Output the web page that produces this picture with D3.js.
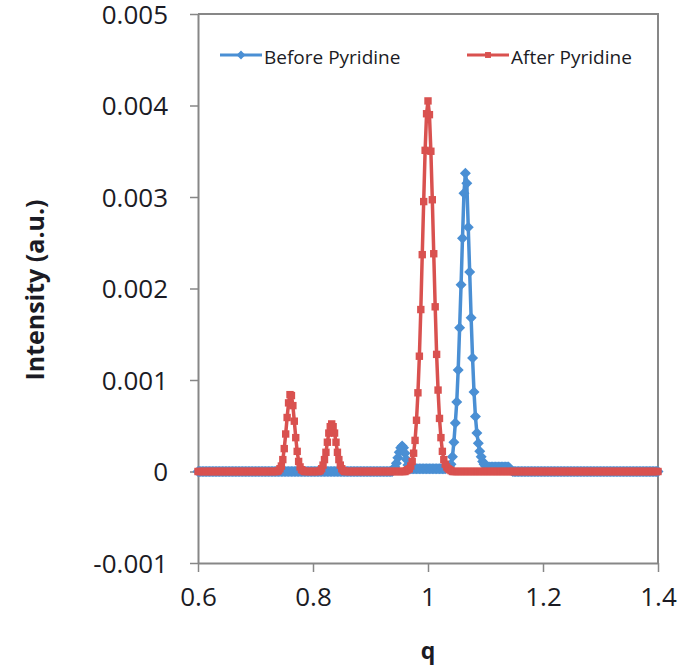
<!DOCTYPE html>
<html>
<head>
<meta charset="utf-8">
<script src="https://cdn.jsdelivr.net/npm/d3@7"></script>
<style>
    body { margin: 0; background: #fff; }
    svg text { font-family: "Open Sans", sans-serif; fill: #1b1b24; }
</style>
</head>
<body>
<svg id="chart" width="690" height="669"></svg>
<script>
// q grid of the scan: first value and step
var qStart = 0.6;
var qStep = 0.0025;

// intensities, one value per q step (0.6 .. 1.4), 10 per row (row r starts at q = 0.6 + 0.025 r)
var beforePyridine = [
    0, 0, 0, 0, 0, 0, 0, 0, 0, 0,
    0, 0, 0, 0, 0, 0, 0, 0, 0, 0,
    0, 0, 0, 0, 0, 0, 0, 0, 0, 0,
    0, 0, 0, 0, 0, 0, 0, 0, 0, 0,
    0, 0, 0, 0, 0, 0, 0, 0, 0, 0,
    0, 0, 0, 0, 0, 0, 0, 0, 0, 0,
    0, 0, 0, 0, 0, 0, 0, 0, 0, 0,
    0, 0, 0, 0, 0, 0, 0, 0, 0, 0,
    0, 0, 0, 0, 0, 0, 0, 0, 0, 0,
    0, 0, 0, 0, 0, 0, 0, 0, 0, 0,
    0, 0, 0, 0, 0, 0, 0, 0, 0, 0,
    0, 0, 0, 0, 0, 0, 0, 0, 0, 0,
    0, 0, 0, 0, 0, 0, 0, 0, 0, 0,
    0, 0, 0, 0, 0, 0, 0.00002, 0.00005, 0.00009, 0.00015,
    0.00021, 0.00026, 0.00028, 0.00026, 0.0002, 0.00013, 0.00007, 0.00004, 0.00003, 0.00003,
    0.00003, 0.00003, 0.00003, 0.00003, 0.00003, 0.00003, 0.00003, 0.00003, 0.00003, 0.00003,
    0.00003, 0.00003, 0.00003, 0.00003, 0.00003, 0.00003, 0.00003, 0.00003, 0.00003, 0.00003,
    0.00003, 0.00003, 0.00003, 0.00004, 0.00005, 0.00006, 0.00008, 0.00016, 0.00032, 0.00053,
    0.00076, 0.00111, 0.00157, 0.00204, 0.00255, 0.00304, 0.00326, 0.00315, 0.00267, 0.00218,
    0.00168, 0.00124, 0.00087, 0.0006, 0.00042, 0.00031, 0.00022, 0.00016, 0.00011, 0.00008,
    0.00006, 0.00005, 0.00005, 0.00005, 0.00005, 0.00005, 0.00005, 0.00005, 0.00005, 0.00005,
    0.00005, 0.00005, 0.00005, 0.00005, 0.00005, 0.00005, 0.00005, 0.00003, 0.00001, 0,
    0, 0, 0, 0, 0, 0, 0, 0, 0, 0,
    0, 0, 0, 0, 0, 0, 0, 0, 0, 0,
    0, 0, 0, 0, 0, 0, 0, 0, 0, 0,
    0, 0, 0, 0, 0, 0, 0, 0, 0, 0,
    0, 0, 0, 0, 0, 0, 0, 0, 0, 0,
    0, 0, 0, 0, 0, 0, 0, 0, 0, 0,
    0, 0, 0, 0, 0, 0, 0, 0, 0, 0,
    0, 0, 0, 0, 0, 0, 0, 0, 0, 0,
    0, 0, 0, 0, 0, 0, 0, 0, 0, 0,
    0, 0, 0, 0, 0, 0, 0, 0, 0, 0,
    0
];

var afterPyridine = [
    0, 0, 0, 0, 0, 0, 0, 0, 0, 0,
    0, 0, 0, 0, 0, 0, 0, 0, 0, 0,
    0, 0, 0, 0, 0, 0, 0, 0, 0, 0,
    0, 0, 0, 0, 0, 0, 0, 0, 0, 0,
    0, 0, 0, 0, 0, 0, 0, 0, 0, 0,
    0, 0, 0, 0, 0, 0, 0.00001, 0.00003, 0.00006, 0.00013,
    0.00025, 0.00041, 0.00059, 0.00075, 0.00084, 0.00083, 0.00072, 0.00055, 0.00037, 0.00022,
    0.00011, 0.00005, 0.00002, 0.00001, 0, 0, 0, 0, 0, 0,
    0, 0, 0, 0, 0, 0.00001, 0.00003, 0.00007, 0.00013, 0.00021,
    0.00032, 0.00042, 0.00049, 0.00052, 0.00049, 0.00042, 0.00032, 0.00021, 0.00013, 0.00007,
    0.00003, 0.00001, 0, 0, 0, 0, 0, 0, 0, 0,
    0, 0, 0, 0, 0, 0, 0, 0, 0, 0,
    0, 0, 0, 0, 0, 0, 0, 0, 0, 0,
    0, 0, 0, 0, 0, 0, 0, 0, 0, 0,
    0, 0, 0, 0, 0, 0.00001, 0.00002, 0.00003, 0.00006, 0.00011,
    0.0002, 0.00034, 0.00056, 0.00086, 0.00126, 0.00177, 0.00237, 0.00295, 0.00351, 0.00391,
    0.00405, 0.0039, 0.0035, 0.00297, 0.00238, 0.0018, 0.00128, 0.00089, 0.00058, 0.00037,
    0.00022, 0.00013, 0.00008, 0.00005, 0.00003, 0.00002, 0.00001, 0, 0, 0,
    0, 0, 0, 0, 0, 0, 0, 0, 0, 0,
    0, 0, 0, 0, 0, 0, 0, 0, 0, 0,
    0, 0, 0, 0, 0, 0, 0, 0, 0, 0,
    0, 0, 0, 0, 0, 0, 0, 0, 0, 0,
    0, 0, 0, 0, 0, 0, 0, 0, 0, 0,
    0, 0, 0, 0, 0, 0, 0, 0, 0, 0,
    0, 0, 0, 0, 0, 0, 0, 0, 0, 0,
    0, 0, 0, 0, 0, 0, 0, 0, 0, 0,
    0, 0, 0, 0, 0, 0, 0, 0, 0, 0,
    0, 0, 0, 0, 0, 0, 0, 0, 0, 0,
    0, 0, 0, 0, 0, 0, 0, 0, 0, 0,
    0, 0, 0, 0, 0, 0, 0, 0, 0, 0,
    0, 0, 0, 0, 0, 0, 0, 0, 0, 0,
    0, 0, 0, 0, 0, 0, 0, 0, 0, 0,
    0
];

var seriesNames = ["Before Pyridine", "After Pyridine"];
var xTicks = [0.6, 0.8, 1, 1.2, 1.4];
var yTicks = [-0.001, 0, 0.001, 0.002, 0.003, 0.004, 0.005];

var colors = ["#4a8fd4", "#d9514f"];
var margin = { top: 14, right: 32, bottom: 106, left: 198 };
var width = 690, height = 669;

var svg = d3.select("#chart");

var x = d3.scaleLinear().domain([0.6, 1.4]).range([margin.left, width - margin.right]);
var y = d3.scaleLinear().domain([-0.001, 0.005]).range([height - margin.bottom, margin.top]);

function toPoints(values) {
    return values.map(function (v, i) { return { q: qStart + i * qStep, v: v }; });
}
var series = [toPoints(beforePyridine), toPoints(afterPyridine)];

// plot frame (top and right edges)
svg.append("path")
    .attr("d", "M" + x(0.6) + "," + y(0.005) + "H" + x(1.4) + "V" + y(-0.001))
    .attr("fill", "none")
    .attr("stroke", "#878787")
    .attr("stroke-width", 2);

var xAxis = svg.append("g")
    .attr("transform", "translate(0," + y(-0.001) + ")")
    .call(d3.axisBottom(x).tickValues(xTicks).tickSize(9).tickSizeOuter(0).tickPadding(14)
        .tickFormat(function (d) { return String(+d.toFixed(1)); }));

var yAxis = svg.append("g")
    .attr("transform", "translate(" + x(0.6) + ",0)")
    .call(d3.axisLeft(y).tickValues(yTicks).tickSize(8).tickSizeOuter(0).tickPadding(22)
        .tickFormat(function (d) { return String(+d.toFixed(3)); }));

[xAxis, yAxis].forEach(function (g) {
    g.select(".domain").attr("stroke", "#878787").attr("stroke-width", 2);
    g.selectAll(".tick line").attr("stroke", "#878787").attr("stroke-width", 1.5);
    g.selectAll(".tick text")
        .style("font-family", "'Open Sans', sans-serif")
        .style("font-size", "26px")
        .attr("fill", "#1b1b24");
});
xAxis.selectAll(".tick text").attr("dy", "0.78em");
yAxis.selectAll(".tick text").attr("dy", "0.36em");

var diamond = "M0,-5.5L5.5,0L0,5.5L-5.5,0Z";
var square = "M-3.7,-3.7H3.7V3.7H-3.7Z";
var markers = [diamond, square];

var line = d3.line()
    .x(function (d) { return x(d.q); })
    .y(function (d) { return y(d.v); });

series.forEach(function (data, k) {
    var g = svg.append("g").attr("class", "series-" + k);
    g.append("path")
        .datum(data)
        .attr("d", line)
        .attr("fill", "none")
        .attr("stroke", colors[k])
        .attr("stroke-width", 3.5)
        .attr("stroke-linejoin", "round");
    g.selectAll("path.marker")
        .data(data)
        .enter().append("path")
        .attr("class", "marker")
        .attr("d", markers[k])
        .attr("transform", function (d) { return "translate(" + x(d.q) + "," + y(d.v) + ")"; })
        .attr("fill", colors[k]);
});

// legend
var legendX = [220, 467];
seriesNames.forEach(function (name, k) {
    var g = svg.append("g").attr("transform", "translate(" + legendX[k] + ",55)");
    g.append("line")
        .attr("x1", 0).attr("x2", 42)
        .attr("stroke", colors[k]).attr("stroke-width", 3);
    g.append("path")
        .attr("d", markers[k])
        .attr("transform", "translate(21,0) scale(0.8)")
        .attr("fill", colors[k]);
    g.append("text")
        .attr("x", 44).attr("y", 9)
        .style("font-size", "19px")
        .text(name);
});

// axis titles
svg.append("text")
    .attr("x", x(1)).attr("y", 659)
    .attr("text-anchor", "middle")
    .style("font-size", "23px")
    .style("font-weight", "bold")
    .text("q");

svg.append("text")
    .attr("transform", "translate(44,290) rotate(-90)")
    .attr("text-anchor", "middle")
    .style("font-size", "25px")
    .style("font-weight", "bold")
    .text("Intensity (a.u.)");
</script>
</body>
</html>
